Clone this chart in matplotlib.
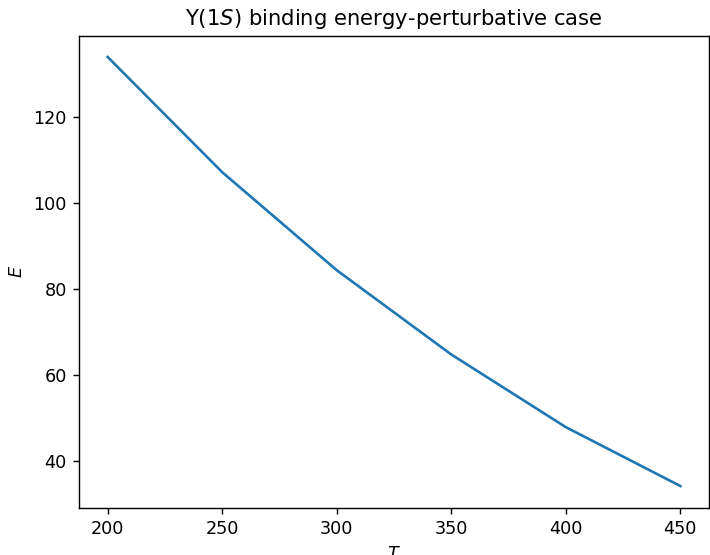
import numpy as np
import matplotlib
matplotlib.use('Agg')
import matplotlib.pyplot as plt

T = [200, 250, 300, 350, 400, 450]
E = [134.0, 107.2, 84.4, 64.8, 47.9, 34.2]

dpi = 127
fig = plt.figure(figsize=(710 / dpi, 555 / dpi), dpi=dpi)
ax = fig.add_axes([79 / 710, 1 - 507.5 / 555, (709 - 79) / 710, (507.5 - 35.5) / 555])

ax.plot(T, E)
ax.set_xlabel('$T$')
ax.set_ylabel('$E$')
ax.set_title(r'$\Upsilon(1S)$ binding energy-perturbative case')

plt.savefig('out.png', dpi=dpi)
